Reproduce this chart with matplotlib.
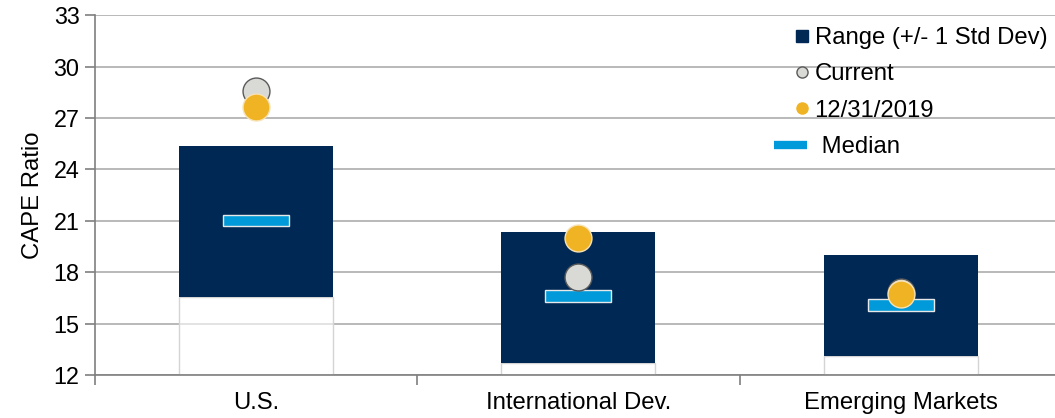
import matplotlib.pyplot as plt
from matplotlib.lines import Line2D
from matplotlib.legend_handler import HandlerLine2D
import numpy as np

plt.rcParams['font.family'] = ['Liberation Sans', 'DejaVu Sans']

# CAPE ratio by region
regions = ['U.S.', 'International Dev.', 'Emerging Markets']
range_low = [16.55, 12.70, 13.10]
range_high = [25.35, 20.33, 19.00]
median = [21.02, 16.62, 16.09]
current = [28.60, 17.70, 16.87]
dec_2019 = [27.65, 19.98, 16.73]

NAVY = '#002855'
BLUE = '#009ADA'
GOLD = '#F0B323'
GRAY = '#D9D9D6'


class ShiftedMarker(HandlerLine2D):
    """Legend handler that nudges a single marker towards its label."""
    def __init__(self, shift=8, **kw):
        super().__init__(**kw)
        self.shift = shift

    def create_artists(self, legend, orig_handle, xdescent, ydescent,
                       width, height, fontsize, trans):
        return super().create_artists(legend, orig_handle, xdescent - self.shift,
                                      ydescent, width, height, fontsize, trans)


fig = plt.figure(figsize=(10.55, 4.18), dpi=100)
ax = fig.add_axes([0.0898, 0.1029, 0.9169, 0.8605])

x = np.arange(len(regions))
bar_w = 0.478
med_w = 0.205
med_h = 0.68

# white base up to the low end of the range
ax.bar(x, np.array(range_low) - 12, bottom=12, width=bar_w,
       facecolor=(1, 1, 1, 0.6), edgecolor='#d4d4d4', linewidth=1, zorder=2)
# +/- 1 std dev range
ax.bar(x, np.array(range_high) - np.array(range_low), bottom=range_low,
       width=bar_w, color=NAVY, zorder=2)
# median bars
ax.bar(x, med_h, bottom=np.array(median) - med_h / 2, width=med_w,
       facecolor=BLUE, edgecolor='#e8e8e8', linewidth=1, zorder=3)
# markers
ax.scatter(x, current, s=375, facecolor=GRAY, edgecolor='#5a5a5a',
           linewidth=1, zorder=4)
ax.scatter(x, dec_2019, s=375, facecolor=GOLD, edgecolor='#f6e2b4',
           linewidth=1, zorder=5)

ax.set_ylim(12, 33)
ax.set_xlim(-0.5, 2.5)
ax.set_yticks(np.arange(12, 34, 3))
ax.yaxis.grid(True, color='#a6a6a6', linewidth=1.1, zorder=0)
ax.set_axisbelow(True)

ax.set_xticks(x)
ax.set_xticklabels(regions)
ax.set_xticks([-0.5, 0.5, 1.5], minor=True)
ax.tick_params(axis='x', which='major', length=0, pad=12, labelsize=17.2)
ax.tick_params(axis='x', which='minor', length=7, width=1.2, color='#7f7f7f',
               direction='out')
ax.tick_params(axis='y', length=7, width=1.2, color='#7f7f7f', pad=4,
               labelsize=16.8)

for side in ['top', 'right']:
    ax.spines[side].set_visible(False)
for side in ['left', 'bottom']:
    ax.spines[side].set_color('#7f7f7f')
    ax.spines[side].set_linewidth(1.2)

ax.set_ylabel('CAPE Ratio', fontsize=17.2, labelpad=7)

h_range = Line2D([], [], marker='s', color=NAVY, linestyle='none', markersize=8)
h_cur = Line2D([], [], marker='o', markerfacecolor=GRAY, markeredgecolor='#5a5a5a',
               linestyle='none', markersize=8)
h_2019 = Line2D([], [], marker='o', markerfacecolor=GOLD, markeredgecolor=GOLD,
                linestyle='none', markersize=8)
h_med = Line2D([], [], color=BLUE, linewidth=6, solid_capstyle='butt')

fig.legend([h_range, h_cur, h_2019, h_med],
           ['Range (+/- 1 Std Dev)', 'Current', '12/31/2019', ' Median'],
           loc='upper left', bbox_to_anchor=(774 / 1055, 1 - 27 / 418),
           frameon=False, fontsize=17.2, handlelength=1.4, handletextpad=0.3,
           labelspacing=0.6, borderpad=0, borderaxespad=0,
           handler_map={h_range: ShiftedMarker(8), h_cur: ShiftedMarker(8),
                        h_2019: ShiftedMarker(8)})

fig.savefig('out.png', dpi=100)
